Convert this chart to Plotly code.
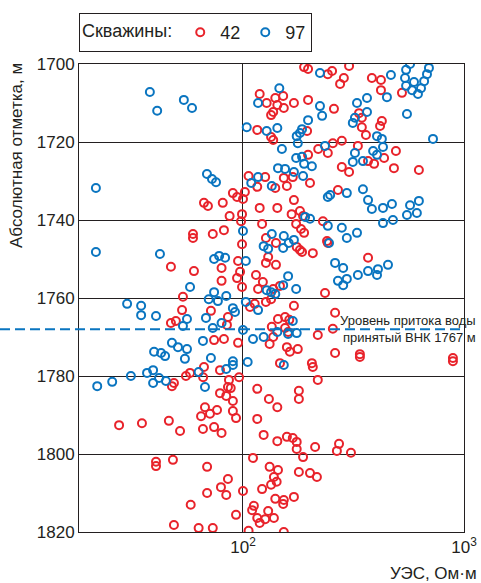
import plotly.graph_objects as go

# ---- data ----
well_names = ["42", "97"]

red_x = [189, 197, 302, 253, 242, 286, 275, 383, 421, 421, 524, 119, 128, 140, 152, 143, 153, 170, 134, 137,
         197, 258, 335, 345, 345, 360, 425, 417, 116, 134, 137, 195, 255, 280, 242, 219, 197, 331, 492, 435,
         392, 368, 280, 302, 482, 625, 269, 106, 116, 126, 153, 158, 168, 201, 140, 90, 94, 102, 100, 81,
         66.6, 69.4, 119, 143, 170, 87, 99, 166, 181, 187, 98, 122, 174, 183, 189, 230, 59.4, 59.4, 73, 82,
         99, 127, 141, 130, 95, 127, 141, 80, 97, 94, 80, 60, 47.2, 99, 114.5, 123, 117, 137, 147, 175,
         181, 185, 207, 240, 242, 368, 235, 53.5, 53, 71.6, 47.2, 49.7, 85.5, 84.6, 113, 107.6, 127, 134, 170, 261,
         144, 155, 162, 135, 137, 132, 155, 160, 218, 255, 74, 82, 95, 158, 163, 177, 261, 338, 338, 891,
         891, 147, 205, 207, 66.6, 57.6, 55.2, 78.7, 66, 96, 218, 48.7, 47.7, 86.4, 85.5, 88, 78.7, 84, 90, 116,
         131, 143, 179, 179, 67.3, 64.6, 70.9, 76.3, 90, 93, 65.9, 74, 80, 27.5, 34.9, 46.2, 51.9, 116, 124, 143,
         158, 168, 175, 175, 187, 212, 272, 266, 308, 40.4, 40.4, 48.2, 68.8, 111, 132, 144, 179, 201, 216, 85.5,
         79.5, 84, 68.8, 100, 122, 134, 142, 138, 140, 153, 152, 170, 58, 93, 112, 110, 116, 119, 126, 130,
         138, 48.7, 63, 73, 106, 153]
red_y = [1700.8, 1701.3, 1700.5, 1701.8, 1702.6, 1703.6, 1705.1, 1703.6, 1704.1, 1706.7, 1707.4, 1707.7, 1710, 1708.7, 1708.2, 1710.5, 1711.3, 1710, 1713.1, 1712.3,
         1709.2, 1711.5, 1712.6, 1713.8, 1716.2, 1718.2, 1714.6, 1715.9, 1716.9, 1718.7, 1719.5, 1717.2, 1720.3, 1719.7, 1722.8, 1721.8, 1723.3, 1721, 1722.3, 1724.1,
         1725.6, 1724.9, 1726.4, 1727.7, 1726.7, 1727.2, 1732.3, 1728.7, 1731.5, 1729, 1729.2, 1731.3, 1729, 1730.5, 1731.8, 1733.1, 1734.1, 1732.8, 1734.6, 1735.6,
         1735.6, 1736.4, 1736.9, 1736.9, 1734.9, 1739, 1738.5, 1738.5, 1737.7, 1739, 1740.3, 1741, 1741, 1742.3, 1743.3, 1740.3, 1743.6, 1744.6, 1743.6, 1742.6,
         1746.2, 1744.6, 1745.9, 1749.5, 1750.5, 1751, 1751.5, 1752.3, 1753.3, 1754.9, 1755.6, 1753.1, 1752, 1757.2, 1754.1, 1755.9, 1757.7, 1757.7, 1756.9, 1746.9,
         1747.7, 1748.2, 1748.5, 1745.4, 1745.9, 1749.7, 1758.7, 1759.7, 1763.1, 1763.3, 1766.4, 1765.9, 1764.9, 1766.9, 1761.5, 1762.3, 1761, 1760.3, 1762, 1763.8,
         1765.4, 1764.9, 1765.6, 1767.4, 1770, 1771.8, 1767.7, 1768.7, 1769.5, 1767.9, 1770.8, 1770.5, 1771.5, 1772.6, 1773.8, 1773.1, 1774.1, 1774.4, 1775.1, 1775.4,
         1776.2, 1776.7, 1776.7, 1777.7, 1777.7, 1779.2, 1780, 1778.5, 1780.3, 1780.3, 1781, 1781.8, 1782.6, 1781, 1782.8, 1783.1, 1784.4, 1785.1, 1786.4, 1783.3,
         1785.9, 1788, 1783.8, 1785.9, 1788, 1790.3, 1789.7, 1788.7, 1789, 1790.8, 1793.6, 1793.1, 1794.6, 1792.6, 1792.1, 1791.5, 1794.1, 1791, 1795.1, 1796.7,
         1795.6, 1795.9, 1796.9, 1798.7, 1800.8, 1798.2, 1797.4, 1799.2, 1799.7, 1802, 1803.1, 1801.5, 1803.3, 1801, 1803.3, 1804.1, 1804.6, 1804.9, 1805.9, 1806.4,
         1808.5, 1810.5, 1810, 1809.5, 1809, 1807.9, 1807.1, 1805.9, 1811.5, 1811.8, 1812.8, 1811, 1813, 1815.6, 1813.3, 1814.4, 1816.4, 1817.7, 1816.7, 1814.6,
         1816.4, 1818.2, 1819, 1819, 1819.7, 1820]

blue_x = [37.9, 40.9, 54, 58.8, 21.6, 68.7, 72.4, 75.5, 104, 117, 146, 128, 143, 150, 223, 223, 228, 197, 185, 181,
          175, 177, 235, 174, 185, 189, 205, 144, 155, 170, 187, 109, 117, 135, 191, 201, 570, 547, 541, 547,
          694, 680, 660, 639, 594, 582, 619, 467, 448, 364, 328, 364, 321, 314, 552, 404, 425, 724, 430, 388,
          404, 321, 314, 349, 295, 349, 368, 383, 430, 472, 570, 625, 552, 612, 242, 248, 430, 477, 100, 135,
          124, 130, 153, 170, 161, 152, 242, 280, 295, 328, 245, 74, 78, 83, 103, 261, 284, 331, 368, 404,
          408, 453, 269, 295, 284, 160, 152, 174, 128, 140, 134, 74, 84, 70, 77, 90, 92, 103, 117, 68,
          80, 73, 100, 111, 124, 143, 160, 175, 168, 65.9, 71.6, 90, 90, 84, 105, 153, 63, 67.3, 21.6, 42.1,
          57.6, 29.9, 34.6, 34.6, 40.4, 55.8, 53.5, 47.7, 50.8, 55.8, 54.6, 39.6, 42.6, 44.4, 39.2, 36.8, 39.2, 41.7, 44.8, 31.1,
          25.6, 21.9]
blue_y = [1707.2, 1712, 1709.2, 1711.3, 1731.8, 1728.2, 1729.5, 1730.3, 1716.2, 1710, 1706.2, 1717.2, 1716.4, 1721.8, 1702.3, 1710.8, 1713.3, 1714.4, 1716.7, 1717.7,
          1718.5, 1720.3, 1721, 1724.1, 1723.8, 1725.6, 1726.2, 1726.7, 1726.9, 1727.7, 1728.7, 1730.5, 1729, 1731.3, 1739.2, 1739.7, 1700, 1701.5, 1703.6, 1705.6,
          1701, 1702.6, 1704.4, 1706.2, 1704.6, 1706.7, 1707.7, 1702.8, 1708.5, 1708.7, 1710, 1712.3, 1713.8, 1715.1, 1712.8, 1718.5, 1719.2, 1719.2, 1721.3, 1722.3,
          1723.3, 1722.8, 1725.1, 1724.9, 1733.1, 1732.1, 1734.9, 1737.2, 1736.9, 1735.9, 1736.2, 1735.1, 1738.7, 1738.2, 1734.1, 1733.6, 1740.8, 1740, 1742.8, 1743.6,
          1746.7, 1747.4, 1744.1, 1745.1, 1745.9, 1747.2, 1741.5, 1742, 1744.6, 1743.3, 1745.9, 1750, 1749.2, 1749.7, 1750.5, 1751, 1752.3, 1754.1, 1753.1, 1754.1,
          1752.6, 1751.5, 1755.6, 1755.1, 1756.7, 1754.4, 1756.7, 1757.7, 1758, 1759, 1758.5, 1758.5, 1759.5, 1760.3, 1760.8, 1762.6, 1763.6, 1761, 1763.1, 1765.1,
          1766.4, 1767.7, 1768.2, 1770.5, 1770, 1768.7, 1769.2, 1769, 1765.9, 1771, 1775.4, 1776.2, 1777.2, 1778.2, 1776.4, 1777.2, 1779, 1782.8, 1748.2, 1748.7,
          1757.2, 1761.5, 1762, 1764.4, 1764.6, 1765.4, 1767.2, 1771.5, 1772.6, 1773.1, 1775.6, 1773.8, 1774.1, 1774.9, 1778.5, 1779.2, 1781.8, 1780.5, 1781.3, 1780,
          1781.5, 1782.6]

y_ticks = [1700, 1720, 1740, 1760, 1780, 1800, 1820]
x_ticks = [100, 1000]
x_ticktext = ["10<sup>2</sup>", "10<sup>3</sup>"]
vnk_level = 1768
vnk_text = "Уровень притока воды<br>принятый ВНК 1767 м"

RED = "#e8232b"
BLUE = "#0a75c0"
INK = "#231f20"

W, H = 481, 583
ML, MR, MT, MB = 79, 17, 64, 51
PW, PH = W - ML - MR, H - MT - MB

fig = go.Figure()
for name, xs, ys, col in [(well_names[0], red_x, red_y, RED), (well_names[1], blue_x, blue_y, BLUE)]:
    fig.add_trace(go.Scatter(
        x=xs, y=ys, mode="markers", name=name,
        marker=dict(symbol="circle-open", size=8, color=col, line=dict(width=2, color=col)),
    ))

fig.add_shape(type="line", xref="paper", yref="y", x0=-ML / PW, x1=1 - 1 / PW, y0=vnk_level, y1=vnk_level,
              line=dict(color=BLUE, width=2, dash="10px,5px"))

fig.add_annotation(text=vnk_text, xref="paper", yref="y", x=1 + 14 / PW, y=vnk_level,
                   xanchor="right", yanchor="middle", align="right", showarrow=False,
                   font=dict(size=13, color=INK))
fig.add_annotation(text="Абсолютная отметка, м", xref="paper", yref="paper",
                   x=-63 / PW, y=(PH + MT - 156) / PH, xanchor="center", yanchor="middle", textangle=-90,
                   showarrow=False, font=dict(size=17, color=INK))
fig.add_annotation(text="УЭС, Ом·м", xref="paper", yref="paper",
                   x=1 + 15 / PW, y=-41 / PH, xanchor="right", yanchor="middle",
                   showarrow=False, font=dict(size=17, color=INK))

fig.update_layout(
    width=W, height=H,
    margin=dict(l=ML, r=MR, t=MT, b=MB, autoexpand=False),
    paper_bgcolor="white", plot_bgcolor="white",
    font=dict(family="Liberation Sans, Arial, sans-serif", size=17, color=INK),
    showlegend=True,
    legend=dict(orientation="h", x=0, xanchor="left", y=1 + 51 / PH, yanchor="top",
                title=dict(text="Скважины:", side="left", font=dict(size=18)),
                bordercolor=INK, borderwidth=1, bgcolor="white",
                font=dict(size=18), itemwidth=30),
    xaxis=dict(type="log", range=[1.258, 3], tickvals=x_ticks, ticktext=x_ticktext,
               showgrid=True, gridcolor=INK, gridwidth=1, showline=True, linecolor=INK,
               linewidth=1, mirror=True, ticks="", zeroline=False, automargin=False),
    yaxis=dict(range=[1820, 1700], tickvals=y_ticks, showgrid=True, gridcolor=INK,
               gridwidth=1, showline=True, linecolor=INK, linewidth=1, mirror=True,
               ticks="", zeroline=False, automargin=False),
)

fig.write_html("out.html")
